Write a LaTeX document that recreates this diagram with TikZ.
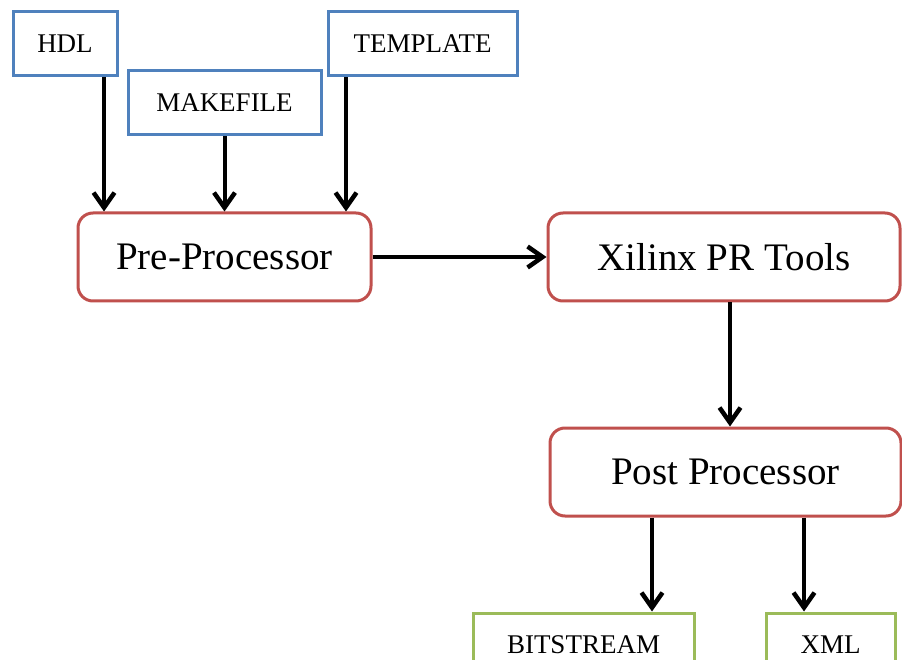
\documentclass[tikz,border=0pt]{standalone}
\usepackage{fontspec}
\setmainfont{Liberation Serif}
\usetikzlibrary{arrows.meta}
\definecolor{inblue}{RGB}{79,129,189}
\definecolor{procred}{RGB}{192,80,77}
\definecolor{outgreen}{RGB}{155,187,89}
\tikzset{
  filebox/.style={draw=inblue, line width=3pt, fill=white, inner sep=0pt,
    font=\fontsize{27}{30}\selectfont},
  procbox/.style={draw=procred, line width=3pt, fill=white, rounded corners=15pt,
    inner sep=0pt, minimum height=88pt, font=\fontsize{39}{42}\selectfont},
  outbox/.style={draw=outgreen, line width=3pt, fill=white, inner sep=0pt,
    font=\fontsize{27}{30}\selectfont},
  flow/.style={line width=4pt, -{Straight Barb[length=15pt,width=21pt,line width=4.5pt]}}
}
\begin{document}
\begin{tikzpicture}[x=1pt, y=-1pt]
\useasboundingbox (0,0) rectangle (902,660);
\clip (0,0) rectangle (902,660);

% input files
\node[filebox, minimum width=104pt, minimum height=64pt] (hdl) at (65,44) {HDL};
\node[filebox, minimum width=193pt, minimum height=64pt] (make) at (224.5,103) {MAKEFILE};
\node[filebox, minimum width=189pt, minimum height=64pt] (tmpl) at (422.5,44) {TEMPLATE};

% processing stages
\node[procbox, minimum width=293pt] (pre) at (224.5,257) {\raisebox{-2pt}{Pre-Processor}};
\node[procbox, minimum width=352pt] (xil) at (724,257) {\raisebox{-1pt}{Xilinx PR Tools}};
\node[procbox, minimum width=351pt] (post) at (725.5,472) {Post Processor};

% outputs
\node[outbox, minimum width=221pt, minimum height=64pt] (bit) at (583.5,645) {BITSTREAM};
\node[outbox, minimum width=129pt, minimum height=64pt] (xml) at (830.5,645) {XML};

% connector end points
\coordinate (h1) at (104,0);
\coordinate (t1) at (346,0);
\coordinate (x1) at (730,0);
\coordinate (b1) at (652,0);
\coordinate (m1) at (804,0);

\draw[flow] (h1 |- hdl.south) -- (h1 |- pre.north);
\draw[flow] (make.south) -- (make.south |- pre.north);
\draw[flow] (t1 |- tmpl.south) -- (t1 |- pre.north);
\draw[flow] (pre.east) -- (xil.west);
\draw[flow] (x1 |- xil.south) -- (x1 |- post.north);
\draw[flow] (b1 |- post.south) -- (b1 |- bit.north);
\draw[flow] (m1 |- post.south) -- (m1 |- xml.north);
\end{tikzpicture}
\end{document}
